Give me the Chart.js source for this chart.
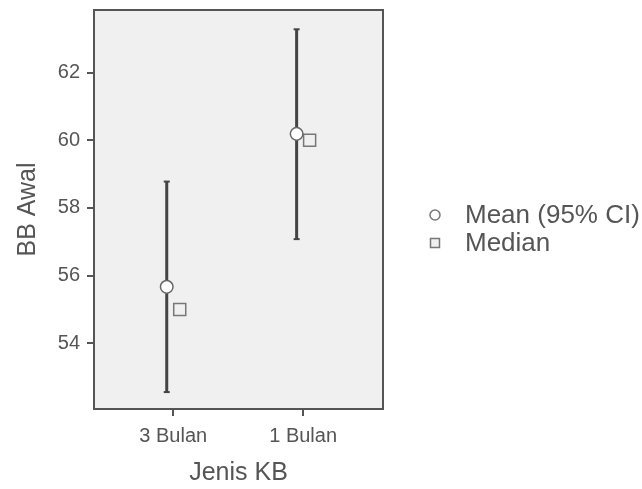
<!DOCTYPE html>
<html>
<head>
<meta charset="utf-8">
<script src="https://cdn.jsdelivr.net/npm/chart.js@4.4.1/dist/chart.umd.min.js"></script>
<style>
    body { margin: 0; background: #fff; }
</style>
</head>
<body>
<canvas id="grafik" width="642" height="489"></canvas>
<script>

const categories = ['3 Bulan', '1 Bulan'];
const meanValues = [55.67, 60.19];
const ciLower = [52.56, 57.08];
const ciUpper = [58.78, 63.28];
const medianValues = [55.0, 60.0];
const yTicks = [54, 56, 58, 60, 62];
const legendLabels = ['Mean (95% CI)', 'Median'];

(function(){

    const fontName = "'Liberation Sans', Arial, sans-serif";
    const textColor = '#555555';
    const dodge = 0.05;

    // pozadie a ramik okolo plochy grafu
    const plotFrame = {
        id: 'plotFrame',
        beforeDraw: function(chart){
            const a = chart.chartArea;
            const c = chart.ctx;
            c.save();
            c.fillStyle = '#f0f0f0';
            c.fillRect(a.left, a.top, a.right - a.left, a.bottom - a.top);
            c.restore();
        },
        afterDraw: function(chart){
            const a = chart.chartArea;
            const c = chart.ctx;
            c.save();
            c.strokeStyle = '#555555';
            c.lineWidth = 2;
            c.strokeRect(a.left, a.top, a.right - a.left, a.bottom - a.top);
            c.restore();
        }
    };

    // legenda vpravo
    const sideLegend = {
        id: 'sideLegend',
        afterDraw: function(chart){
            const c = chart.ctx;
            c.save();
            c.font = '26px ' + fontName;
            c.textBaseline = 'middle';
            c.textAlign = 'left';

            c.beginPath();
            c.arc(435, 215, 5, 0, Math.PI * 2);
            c.fillStyle = '#ffffff';
            c.fill();
            c.strokeStyle = '#777777';
            c.lineWidth = 1.5;
            c.stroke();

            c.fillStyle = '#f0f0f0';
            c.fillRect(430.5, 238.5, 9, 9);
            c.strokeRect(430.5, 238.5, 9, 9);

            c.fillStyle = textColor;
            c.fillText(legendLabels[0], 465, 216);
            c.fillText(legendLabels[1], 465, 244);
            c.restore();
        }
    };

    let datasets = [];

    datasets.push({
        label: legendLabels[0],
        data: meanValues.map(function(v, i){ return {x: i - dodge, y: v}; }),
        showLine: false,
        pointStyle: 'circle',
        pointRadius: 6.3,
        pointBackgroundColor: '#ffffff',
        pointBorderColor: '#666666',
        pointBorderWidth: 1.5
    });

    datasets.push({
        label: legendLabels[1],
        data: medianValues.map(function(v, i){ return {x: i + dodge, y: v}; }),
        showLine: false,
        pointStyle: 'rect',
        pointRadius: 8.5,
        pointBackgroundColor: '#f0f0f0',
        pointBorderColor: '#777777',
        pointBorderWidth: 1.5
    });

    categories.forEach(function(cat, i){
        datasets.push({
            label: 'CI ' + cat,
            data: [
                {x: i - dodge, y: ciLower[i]},
                {x: i - dodge, y: ciUpper[i]}
            ],
            showLine: true,
            borderColor: '#444444',
            borderWidth: 3,
            pointStyle: 'line',
            pointRadius: 3,
            pointBorderColor: '#444444',
            pointBorderWidth: 2
        });
    });

    const config = {
        type: 'scatter',
        data: { datasets: datasets },
        options: {
            animation: false,
            responsive: false,
            layout: {
                padding: { left: 0, top: 10, right: 259, bottom: 0 }
            },
            plugins: {
                legend: { display: false },
                tooltip: { enabled: false }
            },
            scales: {
                x: {
                    type: 'linear',
                    min: -0.61,
                    max: 1.615,
                    afterBuildTicks: function(s){
                        s.ticks = categories.map(function(c, i){ return {value: i}; });
                    },
                    afterFit: function(s){
                        s.height = 80;
                        s.paddingLeft = 0;
                        s.paddingRight = 0;
                    },
                    ticks: {
                        color: textColor,
                        font: { family: fontName, size: 20 },
                        padding: 8,
                        callback: function(v){ return categories[v]; }
                    },
                    grid: {
                        drawOnChartArea: false,
                        color: '#555555',
                        lineWidth: 2,
                        tickLength: 7
                    },
                    border: { display: false },
                    title: {
                        display: true,
                        text: 'Jenis KB',
                        color: textColor,
                        font: { family: fontName, size: 25 },
                        padding: { top: 0, bottom: 1 }
                    }
                },
                y: {
                    min: 52.06,
                    max: 63.85,
                    afterBuildTicks: function(s){
                        s.ticks = yTicks.map(function(v){ return {value: v}; });
                    },
                    afterFit: function(s){
                        s.width = 94;
                        s.paddingTop = 0;
                        s.paddingBottom = 0;
                    },
                    ticks: {
                        color: textColor,
                        font: { family: fontName, size: 20 },
                        padding: 7
                    },
                    grid: {
                        drawOnChartArea: false,
                        color: '#555555',
                        lineWidth: 2,
                        tickLength: 7
                    },
                    border: { display: false },
                    title: {
                        display: true,
                        text: 'BB Awal',
                        color: textColor,
                        font: { family: fontName, size: 25 },
                        padding: { top: 13, bottom: 0 }
                    }
                }
            }
        },
        plugins: [plotFrame, sideLegend]
    };

    let myChart = new Chart(document.getElementById('grafik').getContext('2d'), config);

})();
</script>
</body>
</html>
